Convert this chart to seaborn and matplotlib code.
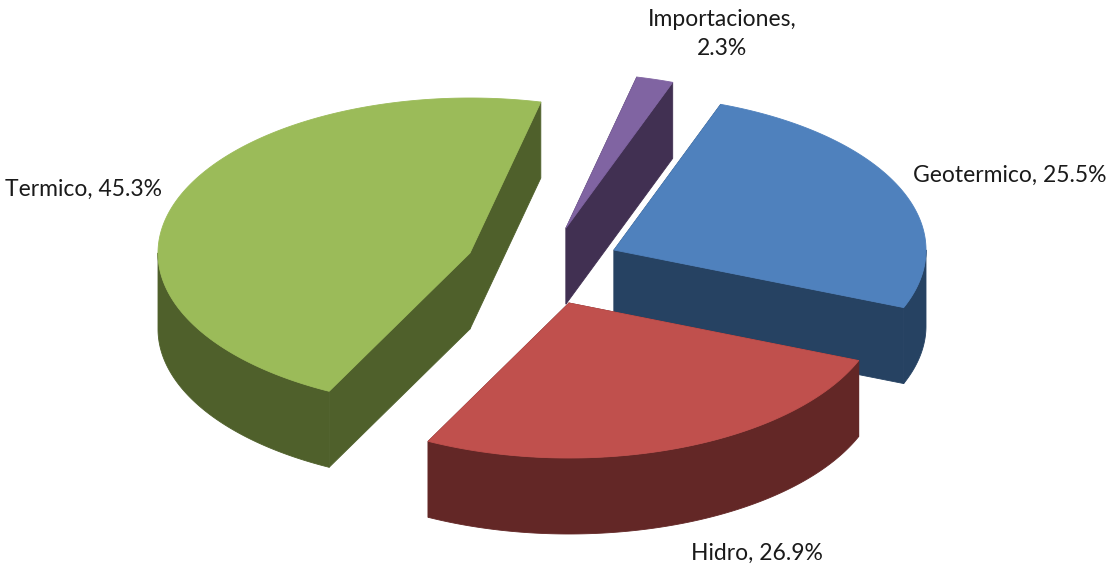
import numpy as np
import matplotlib
matplotlib.use("Agg")
import matplotlib.pyplot as plt
import seaborn as sns

categories = ["Geotermico", "Hidro", "Termico", "Importaciones"]
shares = [25.5, 26.9, 45.3, 2.3]
labels = ["Geotermico, 25.5%", "Hidro, 26.9%", "Termico, 45.3%", "Importaciones,\n2.3%"]

top_colors = ["#4F81BD", "#C0504D", "#9BBB59", "#8064A2"]
side_colors = ["#264262", "#632726", "#4F602B", "#413052"]

# layout (pixels)
W, H = 1113, 565
RX, RY, DEPTH = 312, 155, 76
START = 20.0
# small shift of each slice's end angle, for the perspective of the original 3D view
perspective_shift = [0.0, -1.8, 1.4, 0.0]
apex = {"Geotermico": (614, 250), "Hidro": (569, 303), "Termico": (470, 253), "Importaciones": (566, 228)}
label_pos = {"Geotermico": (913, 175), "Hidro": (691, 553), "Termico": (5, 189), "Importaciones": (722, 34)}
draw_order = ["Termico", "Importaciones", "Geotermico", "Hidro"]

sns.set_theme(style="white")
plt.rcParams["font.family"] = ["Lato", "DejaVu Sans"]

fig = plt.figure(figsize=(W / 100, H / 100), dpi=100)
ax = fig.add_axes([0, 0, 1, 1])
ax.set_xlim(0, W)
ax.set_ylim(H, 0)
ax.axis("off")

fractions = np.array(shares) / sum(shares)
ends = START + np.cumsum(fractions) * 360 + np.array(perspective_shift)
starts = np.r_[START, ends[:-1]]


def arc(cx, cy, a0, a1, n=200):
    t = np.radians(np.linspace(a0, a1, n))
    return cx + RX * np.sin(t), cy - RY * np.cos(t)


def face(xs, ys, color, z):
    ax.fill(xs, ys, color=color, lw=0.6, zorder=z, joinstyle="round")


for name in draw_order:
    i = categories.index(name)
    cx, cy = apex[name]
    a0, a1 = starts[i], ends[i]
    z = draw_order.index(name) * 10 + 1
    xs, ys = arc(cx, cy, a0, a1)
    # radial cut faces
    for ex, ey in ((xs[0], ys[0]), (xs[-1], ys[-1])):
        face([cx, ex, ex, cx], [cy, ey, ey + DEPTH, cy + DEPTH], side_colors[i], z)
    # outer wall: only the front half of the rim (90..270 degrees, wrapped)
    lo, hi = max(a0, 90), min(a1, 270)
    if hi > lo:
        wx, wy = arc(cx, cy, lo, hi)
        face(np.r_[wx, wx[::-1]], np.r_[wy, wy[::-1] + DEPTH], side_colors[i], z + 1)
    # top surface
    face(np.r_[cx, xs], np.r_[cy, ys], top_colors[i], z + 2)

for name, label in zip(categories, labels):
    x, y = label_pos[name]
    multi = "\n" in label
    ax.text(x, y, label, fontsize=16.5, color="#1A1A1A", zorder=100,
            ha="center" if multi else "left", va="center", linespacing=1.44)

fig.savefig("out.png", dpi=100)
